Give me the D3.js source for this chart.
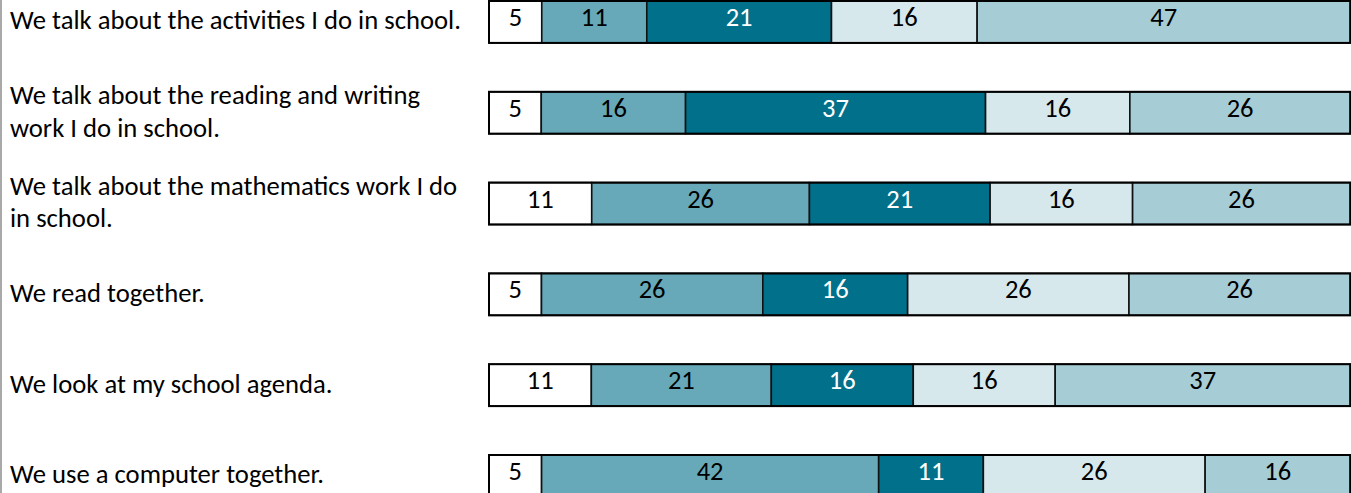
<!DOCTYPE html>
<html>
<head>
<meta charset="utf-8">
<script src="https://cdn.jsdelivr.net/npm/d3@7"></script>
<style>
  html, body { margin: 0; padding: 0; background: #fff; }
  svg { display: block; }
</style>
</head>
<body>
<div id="chart"></div>
<script>
// ---- data ----
const categories = [
  "We talk about the activities I do in school.",
  "We talk about the reading and writing\nwork I do in school.",
  "We talk about the mathematics work I do\nin school.",
  "We read together.",
  "We look at my school agenda.",
  "We use a computer together."
];
const seriesA = [5, 5, 11, 5, 11, 5];
const seriesB = [11, 16, 26, 26, 21, 42];
const seriesC = [21, 37, 21, 16, 16, 11];
const seriesD = [16, 16, 16, 26, 16, 26];
const seriesE = [47, 26, 26, 26, 37, 16];

const seriesList = [seriesA, seriesB, seriesC, seriesD, seriesE];
const colors = ["#ffffff", "#67a9b8", "#01718b", "#d7e8ed", "#a6ccd6"];
const textColors = ["#000", "#000", "#fff", "#000", "#000"];

// ---- layout ----
const W = 1351, H = 493;
const barLeft = 489, barRight = 1350.3;
const fontFam = "Carlito, Lato, 'Open Sans', sans-serif";

const svg = d3.select("#chart").append("svg")
  .attr("width", W).attr("height", H)
  .style("background", "#fff");

// left frame line
svg.append("line")
  .attr("x1", 1).attr("x2", 1).attr("y1", 0).attr("y2", H)
  .attr("stroke", "#8c8c8c").attr("stroke-width", 1.5);

const y = d3.scaleBand()
  .domain(categories)
  .range([1, 1 + 90.8 * (6 - 0.5385)])
  .paddingInner(0.5385)
  .paddingOuter(0);

// segment size scale (the reference segments are not strictly proportional)
const sizeScale = d3.scalePow().exponent(0.873).domain([0, 47]).range([0, 372.6]);

categories.forEach((cat, i) => {
  const vals = seriesList.map(s => s[i]);
  const sizes = vals.map(v => sizeScale(v));
  const total = d3.sum(sizes);
  const x = d3.scaleLinear().domain([0, total]).range([barLeft, barRight]);
  let cum = 0;
  const segs = vals.map((v, k) => {
    const s = { v, k, x0: cum, x1: cum + sizes[k] };
    cum += sizes[k];
    return s;
  });
  const g = svg.append("g");
  const top = y(cat), bh = y.bandwidth();

  g.selectAll("rect.seg").data(segs).enter().append("rect")
    .attr("class", "seg")
    .attr("x", d => x(d.x0))
    .attr("y", top)
    .attr("width", d => x(d.x1) - x(d.x0))
    .attr("height", bh)
    .attr("fill", d => colors[d.k])
    .attr("stroke", "#111")
    .attr("stroke-width", 1.6);

  g.append("rect")
    .attr("x", barLeft).attr("y", top)
    .attr("width", barRight - barLeft).attr("height", bh)
    .attr("fill", "none").attr("stroke", "#000").attr("stroke-width", 2);

  g.selectAll("text.val").data(segs).enter().append("text")
    .attr("class", "val")
    .attr("x", d => (x(d.x0) + x(d.x1)) / 2)
    .attr("y", top + bh / 2 + 4)
    .attr("text-anchor", "middle")
    .attr("font-family", fontFam)
    .attr("font-size", 26.5)
    .attr("fill", d => textColors[d.k])
    .text(d => d.v);

  // category label
  const lines = cat.split("\n");
  const lh = 32.5;
  const cy = top + bh / 2;
  const t = svg.append("text")
    .attr("font-family", fontFam)
    .attr("font-size", 26.67)
    .attr("fill", "#000");
  lines.forEach((ln, j) => {
    t.append("tspan")
      .attr("x", 10)
      .attr("y", cy + 7.5 + (j - (lines.length - 1) / 2) * lh)
      .text(ln);
  });
});
</script>
</body>
</html>
